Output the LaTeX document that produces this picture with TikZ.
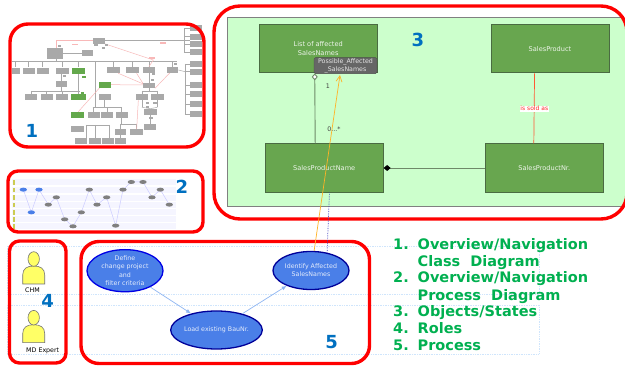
\documentclass[tikz,border=0pt]{standalone}
\usepackage{fontspec}
\setmainfont{DejaVu Sans}
\usetikzlibrary{arrows.meta,shapes.geometric}
\definecolor{panelred}{HTML}{FF0000}
\definecolor{numblue}{HTML}{0070C0}
\definecolor{listgreen}{HTML}{00B050}
\definecolor{classgreen}{HTML}{68A64F}
\definecolor{classedge}{HTML}{4A6B42}
\definecolor{classbg}{HTML}{CCFFCC}
\definecolor{procblue}{HTML}{4A7FE8}
\definecolor{lanecol}{HTML}{CFE5FC}
\definecolor{flowblue}{HTML}{8FB6F2}
\definecolor{minigray}{HTML}{A9A9A9}
\definecolor{minigreen}{HTML}{64A84C}
\definecolor{minipink}{HTML}{F8B8B8}
\definecolor{personyellow}{HTML}{FFFF66}
\tikzset{
  panel/.style={draw=panelred, line width=3.4pt},
  classbox/.style={draw=classedge, fill=classgreen, line width=0.9pt, minimum width=118pt, minimum height=48.5pt, inner sep=0pt, align=center, text=white!88!classgreen, font=\fontsize{6.6}{8.4}\selectfont},
  procbox/.style={ellipse, draw=blue!60!black, fill=procblue, line width=1.3pt, minimum width=76pt, minimum height=38pt, inner sep=0pt, align=center, text=white!85!procblue, font=\fontsize{6.3}{8.3}\selectfont},
  panelnum/.style={text=numblue, font=\bfseries\fontsize{18}{18}\selectfont},
  listtext/.style={anchor=base west, inner sep=0pt, text=listgreen, font=\bfseries\fontsize{14.5}{16}\selectfont},
  rolename/.style={inner sep=0pt, font=\fontsize{6.3}{8}\selectfont},
  lane/.style={draw=lanecol, densely dotted, line width=0.7pt},
  flow/.style={draw=flowblue, line width=0.7pt, -{Latex[length=5pt,width=4pt]}},
  miniline/.style={draw=minigray, line width=0.5pt},
  minilink/.style={draw=minipink, line width=0.5pt}
}
\begin{document}
\begin{tikzpicture}[x=1pt,y=-1pt]
  \useasboundingbox (0,0) rectangle (625,366);
  \fill[white] (0,0) rectangle (625,366);
  % lanes
  \draw[lane] (7,246) rectangle (539,294.5);
  \draw[lane] (7,305) rectangle (539,354);
  % 1: overview class diagram
  \begin{scope}[shift={(0,10)},x=0.3333pt,y=-0.3333pt]
    \foreach \xa/\ya/\xb/\yb in {35/155/530/155,168/147/168/155,190/130/245/130,287/155/287/292,94/243/240/243,184/192/184/243,235/192/235/252,278/292/365/292,314/271/314/292,258/345/328/345,258/345/258/385,285/345/285/385,328/345/328/385,361/342/410/342,361/342/361/358,410/342/410/358,365/325/365/342,362/375/362/385,447/188/447/219,447/235/447/243,426/243/472/243,426/243/426/292,472/243/472/292,426/292/451/296,472/292/451/296,451/316/451/341,553/55/553/126,310/90/570/90,555/162/555/312,535/180/555/185}
      \draw[miniline] (\xa,\ya) -- (\xb,\yb);
    \foreach \x in {47,86,128,187,236,340,398,447,518}
      \draw[miniline] (\x,155) -- (\x,172);
    \foreach \x in {94,140,186}
      \draw[miniline] (\x,243) -- (\x,255);
    \foreach \x in {281,321,365}
      \draw[miniline] (\x,292) -- (\x,306);
    \foreach \y in {55,80,103,126}
      \draw[miniline] (553,\y) -- (570,\y);
    \foreach \y in {162,185,225,252,282,312}
      \draw[miniline] (555,\y) -- (570,\y);
    \draw[minilink] (170,115) -- (170,90) -- (278,90);
    \foreach \xa/\ya/\xb/\yb in {310/100/460/150,460/150/447/170,355/190/430/222,410/190/430/222,510/188/465/235,333/224/430/225,300/232/235/305,415/271/410/358}
      \draw[minilink] (\xa,\ya) -- (\xb,\yb);
    \foreach \x/\y/\w/\h in {296/93/36/16,165/131/48/32,263/129/34/18,47/182/24/18,86/182/36/18,128/182/36/18,187/182/38/18,340/179/38/18,398/179/38/18,447/179/38/18,518/179/34/18,184/222/34/16,447/227/36/16,94/262/36/18,140/262/36/18,186/262/36/18,314/262/36/18,426/262/38/18,472/262/38/18,281/315/36/18,321/315/36/18,365/315/36/18,451/306/38/20,233/356/38/18,451/350/36/18,361/366/34/18,410/366/38/18,242/393/36/18,285/393/36/18,323/393/36/18,362/393/34/18,588/55/36/18,588/80/36/18,588/103/36/18,588/126/36/18,588/162/36/18,588/185/36/18,588/225/36/18,588/252/36/18,588/282/36/18,588/312/36/18,179/109/10/6,288/105/10/6,320/105/10/6,310/113/10/6,527/163/10/6,460/193/10/6,457/211/10/6,193/197/10/6,443/280/10/6,465/280/10/6,443/292/10/6,453/325/10/6}
      \fill[minigray] ({\x-\w/2},{\y-\h/2}) rectangle ++(\w,\h);
    \foreach \x/\y/\w/\h in {236/182/38/18,316/224/36/18,235/262/46/18,232/315/38/18,252/201/10/6,247/248/10/6}
      \fill[minigreen] ({\x-\w/2},{\y-\h/2}) rectangle ++(\w,\h);
    \foreach \x/\y in {225/103,488/99,455/144}
      \fill[minipink] ({\x-9},{\y-2}) rectangle ++(18,4);
  \end{scope}
  \draw[panel,rounded corners=18pt] (10,24) rectangle (204,147);
  \node[panelnum] (num1) at (32,131) {1};
  % 2: overview process diagram
  \begin{scope}[shift={(0,160)},x=0.3333pt,y=-0.3333pt]
    \foreach \y in {67,90,113,135,157,178,199} {
      \fill[blue!4] (36,{\y-9}) rectangle (528,{\y+9});
      \fill[personyellow!80!black] (38,{\y-7}) rectangle (44,{\y+7});
    }
    \draw[draw=blue!20, line width=0.5pt] (70,89) -- (94,157) -- (117,89) -- (145,134) -- (169,112) -- (194,178) -- (219,199) -- (244,157) -- (268,89) -- (291,134) -- (320,112) -- (347,197) -- (369,89) -- (394,66) -- (429,66) -- (456,112) -- (481,89) -- (508,134);
    \foreach \x/\y in {145/134,169/112,194/178,219/199,244/157,268/89,291/134,320/112,347/197,369/89,394/66,429/66,456/112,481/89,508/134}
      \fill[gray] (\x,\y) ellipse (11 and 6);
    \foreach \x/\y in {70/89,117/89,94/157}
      \fill[procblue] (\x,\y) ellipse (11 and 6);
  \end{scope}
  \draw[panel,rounded corners=10pt] (8,171) rectangle (203,232);
  \node[panelnum] (num2) at (182,187) {2};
  % 3: class diagram
  \begin{scope}
    \clip[rounded corners=26pt] (214,6) rectangle (627,219);
    \draw[fill=classbg, draw=gray, line width=0.8pt] (227,17) rectangle (640,206);
  \end{scope}
  \draw[panel,rounded corners=26pt] (214,6) rectangle (627,219);
  \node[panelnum] (num3) at (418,40) {3};
  \node[classbox] (affected) at (318.2,48.7) {List of affected\\SalesNames};
  \node[classbox] (salesproduct) at (550,48.7) {SalesProduct};
  \node[classbox] (salesname) at (324.2,168) {SalesProductName};
  \node[classbox] (salesnr) at (544.3,168) {SalesProductNr.};
  \node[fill=black!60, draw=black!70, rounded corners=1.5pt, minimum width=63pt, minimum height=16pt, inner sep=0pt, align=center, text=white!90!black, font=\fontsize{6.3}{8}\selectfont] (possible) at (345.5,65.7) {Possible\_Affected\\\_SalesNames};
  \draw[draw=classedge!80!white, line width=0.9pt, -{Diamond[open,fill=white,length=7pt,width=6pt]}] (salesname.110.7) -- (affected.262.5);
  \draw[draw=classedge!80!white, line width=0.9pt, -{Diamond[black,length=7pt,width=6pt]}] (salesnr.west) -- (salesname.east);
  \draw[draw=red!65!orange!80!white, line width=0.7pt] (salesproduct.238) -- (salesnr.113);
  \node[fill=white, inner sep=0.5pt, text=red!80!pink, font=\fontsize{6}{7}\selectfont] (soldas) at (534.3,108.7) {is sold as};
  \node[inner sep=0pt, text=black!75, font=\fontsize{6.3}{8}\selectfont] (multone) at (328,86) {1};
  \node[inner sep=0pt, text=black!75, font=\fontsize{6.3}{8}\selectfont] (multmany) at (334,129) {0...*};
  % 4: roles
  \foreach \y/\n in {0/chm,58.7/mde} {
    \begin{scope}[yshift=\y*-1pt]
      \draw[fill=personyellow, draw=black!55, line width=0.6pt] (22.7,284) -- (22.7,275) .. controls (22.7,268.5) and (27,266) .. (33.7,266) .. controls (40.4,266) and (44.7,268.5) .. (44.7,275) -- (44.7,284) -- cycle;
      \draw[fill=personyellow, draw=black!55, line width=0.6pt] (33.7,259) ellipse (5.7 and 7.3);
    \end{scope}
  }
  \node[rolename] (chm) at (32.5,290) {CHM};
  \node[rolename] (mdexpert) at (42.7,350.7) {MD Expert};
  \draw[panel,rounded corners=10pt] (9.5,241) rectangle (66,363);
  \node[panelnum] (num4) at (47.7,301) {4};
  % 5: process
  \draw[panel,rounded corners=18pt] (81,241.5) rectangle (369.5,363.5);
  \node[procbox, draw=blue!90!black] (define) at (125,270.7) {Define\\change project\\and\\filter criteria};
  \node[procbox] (load) at (216.5,330) {Load existing BauNr.};
  \node[procbox] (identify) at (311,270.5) {Identify Affected\\SalesNames};
  \draw[flow] (define) -- (load);
  \draw[flow] (load) -- (identify);
  \node[panelnum] (num5) at (331.7,341.7) {5};
  \coordinate (orangeend) at (340,75);
  \draw[draw=orange!70!yellow!85!white, line width=0.7pt, -{Straight Barb[length=6pt,width=6pt]}] (identify.81) -- (orangeend);
  \draw[draw=blue!50!gray, densely dotted, line width=0.7pt] (identify.48) -- (salesname.282);
  % list
  \node[listtext] (no1) at (393,250) {1.};
  \node[listtext] (item1) at (417.5,250) {Overview/Navigation};
  \node[listtext] (item1b) at (417.5,266.5) {Class\ \ Diagram};
  \node[listtext] (no2) at (393,283) {2.};
  \node[listtext] (item2) at (417.5,283) {Overview/Navigation};
  \node[listtext] (item2b) at (417.5,300.5) {Process\ \ Diagram};
  \node[listtext] (no3) at (393,317) {3.};
  \node[listtext] (item3) at (417.5,317) {Objects/States};
  \node[listtext] (no4) at (393,334) {4.};
  \node[listtext] (item4) at (417.5,334) {Roles};
  \node[listtext] (no5) at (393,351) {5.};
  \node[listtext] (item5) at (417.5,351) {Process};
\end{tikzpicture}
\end{document}
